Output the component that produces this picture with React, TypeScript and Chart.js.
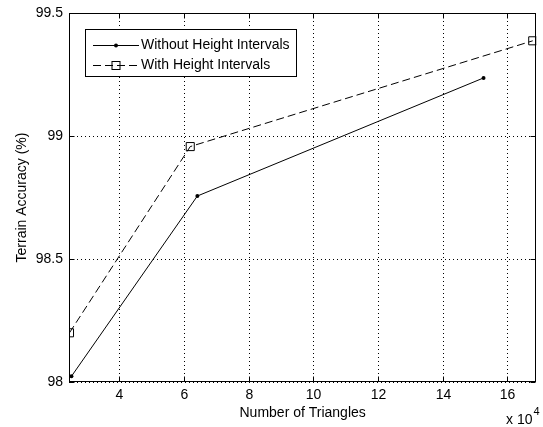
import React, { useEffect, useRef } from 'react';
import { Chart, registerables } from 'chart.js';

Chart.register(...registerables);

const seriesNames = ['Without Height Intervals', 'With Height Intervals'];
const triWithout = [25300, 64200, 152600];
const accWithout = [98.023, 98.756, 99.236];
const triWith = [24700, 62000, 167800];
const accWith = [98.2, 98.957, 99.387];
const xTickValues = [40000, 60000, 80000, 100000, 120000, 140000, 160000];
const yTickValues = [98, 98.5, 99, 99.5];
const xTitle = 'Number of Triangles';
const yTitle = 'Terrain Accuracy (%)';
const xMin = 24550;
const xMax = 168900;
const yMin = 98;
const yMax = 99.5;

const FONT = '"Liberation Sans", Arial, sans-serif';
const FS = 14;

const framePlugin = {
  id: 'frame',
  beforeDatasetsDraw(chart: any) {
    const { ctx, chartArea: a, scales } = chart;
    ctx.save();
    ctx.strokeStyle = '#000';
    ctx.lineWidth = 1;
    ctx.setLineDash([1, 3]);
    for (const v of xTickValues) {
      const x = Math.round(scales.x.getPixelForValue(v)) + 0.5;
      ctx.beginPath();
      ctx.moveTo(x, a.top);
      ctx.lineTo(x, a.bottom);
      ctx.stroke();
    }
    for (const v of yTickValues) {
      const y = Math.round(scales.y.getPixelForValue(v)) + 0.5;
      ctx.beginPath();
      ctx.moveTo(a.left, y);
      ctx.lineTo(a.right, y);
      ctx.stroke();
    }
    ctx.restore();
  },
  afterDatasetsDraw(chart: any) {
    const { ctx, chartArea: a, scales } = chart;
    ctx.save();
    ctx.strokeStyle = '#000';
    ctx.lineWidth = 1;
    ctx.setLineDash([]);
    const L = Math.round(a.left) + 0.5;
    const R = Math.round(a.right) - 0.5;
    const T = Math.round(a.top) + 0.5;
    const B = Math.round(a.bottom) - 0.5;
    ctx.strokeRect(L, T, R - L, B - T);
    const tl = 5;
    ctx.fillStyle = '#000';
    ctx.font = `${FS}px ${FONT}`;
    for (const v of xTickValues) {
      const x = Math.round(scales.x.getPixelForValue(v)) + 0.5;
      ctx.beginPath();
      ctx.moveTo(x, B);
      ctx.lineTo(x, B - tl);
      ctx.moveTo(x, T);
      ctx.lineTo(x, T + tl);
      ctx.stroke();
      ctx.textAlign = 'center';
      ctx.textBaseline = 'middle';
      ctx.fillText(String(v / 10000), x, 395);
    }
    for (const v of yTickValues) {
      const y = Math.round(scales.y.getPixelForValue(v)) + 0.5;
      ctx.beginPath();
      ctx.moveTo(L, y);
      ctx.lineTo(L + tl, y);
      ctx.moveTo(R, y);
      ctx.lineTo(R - tl, y);
      ctx.stroke();
      ctx.textAlign = 'right';
      ctx.textBaseline = 'middle';
      ctx.fillText(String(v), 63, y);
    }

    // axis titles
    ctx.font = `${FS}px ${FONT}`;
    ctx.textAlign = 'center';
    ctx.textBaseline = 'middle';
    ctx.fillText(xTitle, (a.left + a.right) / 2, 413);
    ctx.save();
    ctx.translate(22, (a.top + a.bottom) / 2);
    ctx.rotate(-Math.PI / 2);
    ctx.fillText(yTitle, 0, 0);
    ctx.restore();

    // exponent
    ctx.textAlign = 'left';
    ctx.textBaseline = 'alphabetic';
    ctx.font = `${FS}px ${FONT}`;
    ctx.fillText('x 10', 506, 424);
    const w = ctx.measureText('x 10').width;
    ctx.font = `11px ${FONT}`;
    ctx.fillText('4', 506 + w + 1, 415);

    // legend
    const lx = 85.5, ly = 29.5, lw = 211, lh = 47;
    ctx.fillStyle = '#fff';
    ctx.fillRect(lx, ly, lw, lh);
    ctx.strokeStyle = '#000';
    ctx.strokeRect(lx, ly, lw, lh);
    const rows = [45.5, 65.5];
    const sx0 = 93, sx1 = 139, sxc = 116;
    ctx.beginPath();
    ctx.moveTo(sx0, rows[0]);
    ctx.lineTo(sx1, rows[0]);
    ctx.stroke();
    ctx.fillStyle = '#000';
    ctx.beginPath();
    ctx.arc(sxc, rows[0], 2, 0, Math.PI * 2);
    ctx.fill();
    ctx.setLineDash([8, 4]);
    ctx.beginPath();
    ctx.moveTo(sx0, rows[1]);
    ctx.lineTo(sx1, rows[1]);
    ctx.stroke();
    ctx.setLineDash([]);
    ctx.strokeRect(sxc - 4, rows[1] - 4, 8, 8);
    ctx.font = `${FS}px ${FONT}`;
    ctx.textBaseline = 'middle';
    ctx.fillStyle = '#000';
    ctx.fillText(seriesNames[0], 141, rows[0]);
    ctx.fillText(seriesNames[1], 141, rows[1]);
    ctx.restore();
  },
};

export default function App() {
  const ref = useRef<HTMLCanvasElement | null>(null);
  useEffect(() => {
    document.body.style.margin = '0';
    const canvas = ref.current;
    if (!canvas) return;
    const chart = new Chart(canvas, {
      type: 'scatter',
      data: {
        datasets: [
          {
            label: seriesNames[0],
            data: triWithout.map((x, i) => ({ x, y: accWithout[i] })),
            showLine: true,
            borderColor: '#000',
            backgroundColor: '#000',
            borderWidth: 1,
            pointStyle: 'circle',
            pointRadius: 2,
            pointBorderWidth: 0,
          },
          {
            label: seriesNames[1],
            data: triWith.map((x, i) => ({ x, y: accWith[i] })),
            showLine: true,
            borderColor: '#000',
            backgroundColor: 'rgba(0,0,0,0)',
            borderWidth: 1,
            borderDash: [8, 4],
            pointStyle: 'rect',
            pointRadius: 5.7,
            pointBorderWidth: 1,
            pointBorderColor: '#000',
            pointBackgroundColor: 'rgba(0,0,0,0)',
          },
        ],
      },
      options: {
        animation: false,
        responsive: false,
        layout: { padding: { top: 13, right: 5, left: 0, bottom: 0 } },
        plugins: { legend: { display: false }, tooltip: { enabled: false } },
        scales: {
          x: {
            type: 'linear',
            min: xMin,
            max: xMax,
            grid: { display: false },
            border: { display: false },
            afterBuildTicks: (s: any) => {
              s.ticks = xTickValues.map((v) => ({ value: v }));
            },
            afterFit: (s: any) => {
              s.height = 45;
            },
            ticks: { display: false },
          },
          y: {
            type: 'linear',
            min: yMin,
            max: yMax,
            grid: { display: false },
            border: { display: false },
            afterBuildTicks: (s: any) => {
              s.ticks = yTickValues.map((v) => ({ value: v }));
            },
            afterFit: (s: any) => {
              s.width = 69;
            },
            ticks: { display: false },
          },
        },
      },
      plugins: [framePlugin],
    });
    return () => chart.destroy();
  }, []);
  return (
    <div style={{ width: 543, height: 427, background: '#fff' }}>
      <canvas ref={ref} width={543} height={427} style={{ display: 'block' }} />
    </div>
  );
}
